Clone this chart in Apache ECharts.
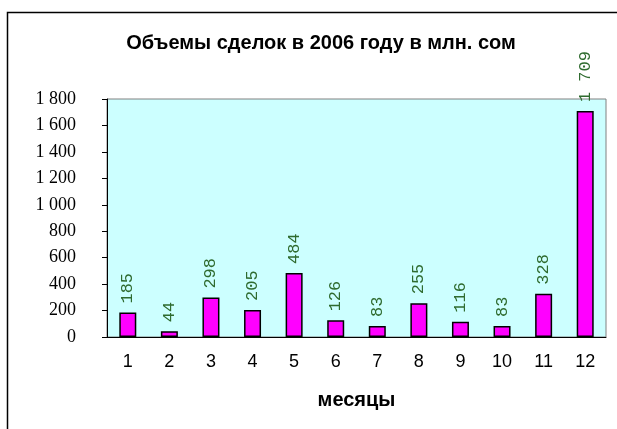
<!DOCTYPE html>
<html><head><meta charset="utf-8">
<script src="https://cdn.jsdelivr.net/npm/echarts@6/dist/echarts.min.js"></script>
<style>html,body{margin:0;padding:0;background:#fff}#c{width:617px;height:429px}</style>
</head><body><div id="c"></div>
<script>
const titleText = 'Объемы сделок в 2006 году в млн. сом';
const xAxisName = 'месяцы';
const months = ['1','2','3','4','5','6','7','8','9','10','11','12'];
const volumes = [185, 44, 298, 205, 484, 126, 83, 255, 116, 83, 328, 1709];
const yMin = 0, yMax = 1800, yStep = 200;

function fmt(v){ return String(v).replace(/\B(?=(\d{3})+(?!\d))/g, ' '); }

const chart = echarts.init(document.getElementById('c'), null, {renderer:'canvas'});
chart.setOption({
  animation: false,
  backgroundColor: '#ffffff',
  title: {
    text: titleText, left: 316, top: 28, textAlign: 'center',
    textStyle: {fontFamily: 'Liberation Sans, Arial', fontWeight: 'bold', fontSize: 20, color: '#000'}
  },
  graphic: [{
    type: 'rect', silent: true, z: -1,
    shape: {x: 7.5, y: 12.5, width: 700, height: 600},
    style: {fill: 'none', stroke: '#000', lineWidth: 1.5}
  }],
  grid: {
    left: 107, right: 11, top: 99, bottom: 92, containLabel: false,
    show: true, backgroundColor: '#ccffff', borderColor: '#808080', borderWidth: 1
  },
  xAxis: {
    type: 'category', data: months,
    name: xAxisName, nameLocation: 'middle', nameGap: 53,
    nameTextStyle: {fontFamily: 'Liberation Sans, Arial', fontWeight: 'bold', fontSize: 20, color: '#000'},
    axisLine: {lineStyle: {color: '#000', width: 1}},
    axisTick: {show: false},
    axisLabel: {margin: 16, fontFamily: 'Liberation Sans, Arial', fontSize: 18, color: '#000'}
  },
  yAxis: {
    type: 'value', min: yMin, max: yMax, interval: yStep,
    axisLine: {show: true, lineStyle: {color: '#000', width: 1}},
    axisTick: {show: true, length: 5, lineStyle: {color: '#000'}},
    splitLine: {show: false},
    axisLabel: {margin: 31, fontFamily: 'Liberation Serif, Times New Roman', fontSize: 18, color: '#000', formatter: fmt}
  },
  series: [{
    type: 'bar', data: volumes, barWidth: 17,
    itemStyle: {color: '#ff00ff', borderColor: '#000', borderWidth: 1.5},
    label: {
      show: true, position: 'top', rotate: 90, align: 'left', verticalAlign: 'middle', distance: 9,
      fontFamily: 'Liberation Mono, Courier New, monospace', fontSize: 17, color: '#2f6b2f',
      formatter: p => fmt(p.value)
    }
  }]
});
</script></body></html>
